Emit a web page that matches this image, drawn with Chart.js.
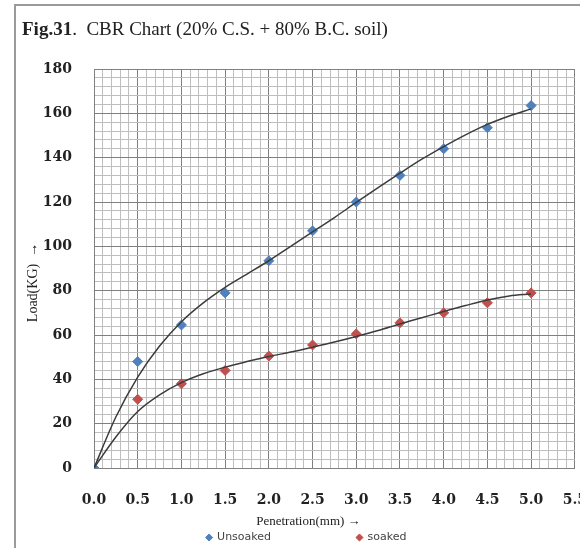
<!DOCTYPE html>
<html><head><meta charset="utf-8">
<script src="https://cdn.jsdelivr.net/npm/chart.js@4.4.1/dist/chart.umd.min.js"></script>
<style>
html,body{margin:0;padding:0;background:#fff;overflow:hidden;width:580px;height:548px;}
#wrap{position:relative;width:580px;height:548px;overflow:hidden;background:#fff;}
#frame{position:absolute;left:14px;top:4px;width:600px;height:600px;border-left:2px solid #9a9a9a;border-top:2px solid #9a9a9a;pointer-events:none;}
#title{position:absolute;left:22px;top:18px;font-family:'Liberation Serif',serif;font-size:19px;color:#222;white-space:nowrap;}
canvas{position:absolute;left:0;top:0;}
</style></head><body>
<div id="wrap">
<canvas id="c" width="611" height="548"></canvas>
<div id="frame"></div>
<div id="title"><b>Fig.31</b>.&nbsp; CBR Chart (20% C.S. + 80% B.C. soil)</div>
</div>
<script>
// Measured data points
const penetration = [0, 0.5, 1.0, 1.5, 2.0, 2.5, 3.0, 3.5, 4.0, 4.5, 5.0];
const unsoaked    = [0, 48, 64.5, 79, 93.5, 107, 120, 132, 144, 153.5, 163.5];
const soaked      = [0, 31, 38, 44, 50.5, 55.5, 60.5, 65.5, 70, 74.5, 79];

// Trend curves
const trendX        = [0, 0.25, 0.5, 0.75, 1.0, 1.25, 1.5, 1.75, 2.0, 2.25, 2.5, 2.75, 3.0, 3.25, 3.5, 3.75, 4.0, 4.25, 4.5, 4.75, 5.0];
const unsoakedTrend = [0, 23, 41, 55, 66, 74.5, 81.5, 87.5, 93.5, 100, 106.5, 113, 119.8, 126.5, 133, 139.3, 145, 150.3, 155, 158.8, 162];
const soakedTrend   = [0, 14, 25.5, 33, 38.5, 42.5, 45.5, 48, 50.3, 52.3, 54.5, 56.8, 59.3, 62, 65, 67.8, 70.6, 73.3, 75.8, 77.6, 78.5];

// Axis settings
const xMin = 0, xMax = 5.5, xMinor = 0.1, xMajor = 0.5;
const yMin = 0, yMax = 180, yMinor = 4, yMajor = 20;
const xTitle = 'Penetration(mm) \u2192';
const yTitle = 'Load(KG)\u00a0\u00a0\u2192';
const seriesNames = ['Unsoaked', 'soaked'];

const pts = (xs, ys) => xs.map((x, i) => ({x: x, y: ys[i]}));
const isMajor = (v, step, minor) => Math.abs(Math.round(v / minor) % Math.round(step / minor)) === 0;

const blue = '#4F81BD', red = '#C0504D', trendCol = '#3c3c3c';
const majorGrid = '#808080', minorGrid = '#bebebe';

const shiftLegend = {
  id: 'shiftLegend',
  afterLayout(chart) {
    if (chart.legend) { chart.legend.left += 1; chart.legend.right += 1; }
  }
};

new Chart(document.getElementById('c'), {
  type: 'scatter',
  data: {
    datasets: [
      {label: seriesNames[0], data: pts(penetration, unsoaked), backgroundColor: blue, borderColor: blue,
       pointStyle: 'rectRot', pointRadius: 5, pointHoverRadius: 5, order: 2},
      {label: seriesNames[1], data: pts(penetration, soaked), backgroundColor: red, borderColor: red,
       pointStyle: 'rectRot', pointRadius: 5, pointHoverRadius: 5, order: 2},
      {label: 'trend1', data: pts(trendX, unsoakedTrend), showLine: true, borderColor: trendCol, borderWidth: 1.5,
       pointRadius: 0, cubicInterpolationMode: 'monotone', fill: false, order: 1},
      {label: 'trend2', data: pts(trendX, soakedTrend), showLine: true, borderColor: trendCol, borderWidth: 1.5,
       pointRadius: 0, cubicInterpolationMode: 'monotone', fill: false, order: 1}
    ]
  },
  options: {
    responsive: false,
    animation: false,
    events: [],
    layout: {padding: {top: 69, left: 0, right: 0, bottom: 0}},
    plugins: {
      tooltip: {enabled: false},
      title: {display: false},
      legend: {
        display: true,
        position: 'bottom',
        maxHeight: 18,
        labels: {
          filter: (item) => item.datasetIndex < 2,
          usePointStyle: true,
          pointStyle: 'rectRot',
          boxWidth: 5, boxHeight: 5,
          padding: 2,
          color: '#444',
          font: {family: 'DejaVu Sans', size: 11},
          generateLabels(chart) {
            const items = Chart.defaults.plugins.legend.labels.generateLabels(chart);
            return items.map(it => {
              if (it.datasetIndex === 0) it.text = it.text + '\u00a0'.repeat(24);
              it.pointStyle = 'rectRot';
              return it;
            });
          }
        }
      }
    },
    scales: {
      x: {
        type: 'linear', min: xMin, max: xMax,
        afterFit(s) { s.height = 62; },
        ticks: {
          stepSize: xMinor, autoSkip: false, maxRotation: 0, padding: 24,
          color: '#222', font: {family: 'DejaVu Serif', size: 14, weight: 'bold'},
          callback: (v) => isMajor(v, xMajor, xMinor) ? Number(v).toFixed(1) : ''
        },
        grid: {
          drawTicks: false,
          color: (ctx) => (ctx.tick && isMajor(ctx.tick.value, xMajor, xMinor)) ? majorGrid : minorGrid,
          lineWidth: 1
        },
        border: {display: true, color: majorGrid},
        title: {display: true, text: xTitle + '\u00a0'.repeat(16), color: '#222',
                font: {family: 'Liberation Serif', size: 13}, padding: {top: 0, bottom: 1}}
      },
      y: {
        type: 'linear', min: yMin, max: yMax,
        afterFit(s) { s.width = 94; },
        ticks: {
          stepSize: yMinor, autoSkip: false, padding: 22,
          color: '#222', font: {family: 'DejaVu Serif', size: 14, weight: 'bold'},
          callback: (v) => isMajor(v, yMajor, yMinor) ? String(v) : ''
        },
        grid: {
          drawTicks: false,
          color: (ctx) => (ctx.tick && isMajor(ctx.tick.value, yMajor, yMinor)) ? majorGrid : minorGrid,
          lineWidth: 1
        },
        border: {display: true, color: majorGrid},
        title: {display: true, text: yTitle + '\u00a0'.repeat(8), color: '#222',
                font: {family: 'Liberation Serif', size: 14}, padding: {top: 25, bottom: 0}}
      }
    }
  },
  plugins: [shiftLegend]
});
</script>
</body></html>
